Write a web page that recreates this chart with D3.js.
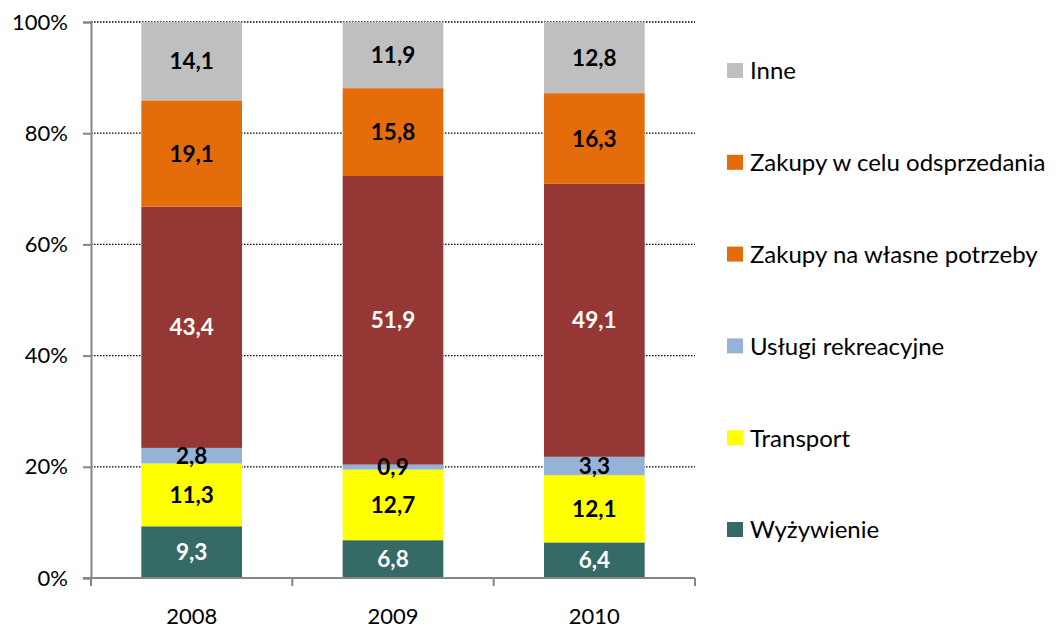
<!DOCTYPE html>
<html>
<head>
<meta charset="utf-8">
<script src="https://cdn.jsdelivr.net/npm/d3@7"></script>
<style>
  body { margin: 0; background: #fff; }
  text { font-family: Lato, "Open Sans", sans-serif; }
</style>
</head>
<body>
<svg id="chart" width="1058" height="631"></svg>
<script>
// DATA
const years = ["2008", "2009", "2010"];
const seriesNames = ["Wyżywienie", "Transport", "Usługi rekreacyjne", "Zakupy na własne potrzeby", "Zakupy w celu odsprzedania", "Inne"];
const wyzywienie = [9.3, 6.8, 6.4];
const transport = [11.3, 12.7, 12.1];
const uslugi = [2.8, 0.9, 3.3];
const zakupyWlasne = [43.4, 51.9, 49.1];
const zakupyOdsprzedaz = [19.1, 15.8, 16.3];
const inne = [14.1, 11.9, 12.8];
const yTicks = [0, 20, 40, 60, 80, 100];

const seriesValues = [wyzywienie, transport, uslugi, zakupyWlasne, zakupyOdsprzedaz, inne];
const barColors = ["#366a66", "#ffff00", "#95b3d7", "#953735", "#e46c0a", "#bfbfbf"];
// legend in the source uses orange for both "Zakupy" entries
const legendColors = ["#366a66", "#ffff00", "#95b3d7", "#e46c0a", "#e46c0a", "#bfbfbf"];
const labelColors = ["#fff", "#000", "#000", "#fff", "#000", "#000"];

const margin = { top: 22, left: 91, right: 363, bottom: 53 };
const W = 1058, H = 631;
const innerW = W - margin.left - margin.right;
const innerH = H - margin.top - margin.bottom;

const svg = d3.select("#chart");
const g = svg.append("g").attr("transform", `translate(${margin.left},${margin.top})`);

const x = d3.scaleBand().domain(years).range([0, innerW]).paddingInner(0.5).paddingOuter(0.25);
const y = d3.scaleLinear().domain([0, 100]).range([innerH, 0]);

// GRID
g.selectAll(".grid")
  .data(yTicks.filter(d => d > 0))
  .enter()
  .append("line")
  .attr("x1", 0)
  .attr("x2", innerW)
  .attr("y1", d => y(d))
  .attr("y2", d => y(d))
  .attr("stroke", "#000")
  .attr("stroke-width", 1.3)
  .attr("stroke-dasharray", "1.5,1.5");

// STACK
const table = years.map((yr, i) => {
  const row = { year: yr };
  seriesNames.forEach((s, j) => { row[s] = seriesValues[j][i]; });
  return row;
});
const stacked = d3.stack().keys(seriesNames)(table);

const layers = g.selectAll(".layer")
  .data(stacked)
  .enter()
  .append("g")
  .attr("fill", (d, i) => barColors[i]);

layers.selectAll("rect")
  .data(d => d)
  .enter()
  .append("rect")
  .attr("x", d => x(d.data.year))
  .attr("width", x.bandwidth())
  .attr("y", d => y(d[1]))
  .attr("height", d => y(d[0]) - y(d[1]));

// LABELS
stacked.forEach((layer, i) => {
  g.selectAll(".lbl" + i)
    .data(layer)
    .enter()
    .append("text")
    .attr("x", d => x(d.data.year) + x.bandwidth() / 2)
    .attr("y", d => (y(d[0]) + y(d[1])) / 2)
    .attr("dy", "0.36em")
    .attr("text-anchor", "middle")
    .attr("font-size", 22.5)
    .attr("font-weight", "bold")
    .attr("fill", labelColors[i])
    .text(d => d3.format(".1f")(d[1] - d[0]).replace(".", ","));
});

// AXES
const yAxis = g.append("g")
  .call(d3.axisLeft(y).tickValues(yTicks).tickFormat(d => d + "%").tickSize(8).tickPadding(15));
yAxis.select(".domain").attr("stroke", "#868686").attr("stroke-width", 2);
yAxis.selectAll(".tick line").attr("stroke", "#868686").attr("stroke-width", 2);
yAxis.selectAll("text").attr("font-size", 22).attr("fill", "#000").attr("font-family", "Lato, sans-serif");

const xAxis = g.append("g").attr("transform", `translate(0,${innerH})`);
xAxis.append("line")
  .attr("x1", -8).attr("x2", innerW)
  .attr("stroke", "#868686").attr("stroke-width", 2);
const bounds = [0].concat(years.map(yr => x(yr) + x.bandwidth() + x.step() * x.paddingInner() / 2));
xAxis.selectAll(".xt")
  .data(bounds)
  .enter()
  .append("line")
  .attr("x1", d => d).attr("x2", d => d)
  .attr("y1", 0).attr("y2", 8)
  .attr("stroke", "#868686").attr("stroke-width", 2);
xAxis.selectAll(".xl")
  .data(years)
  .enter()
  .append("text")
  .attr("x", d => x(d) + x.bandwidth() / 2)
  .attr("y", 46)
  .attr("text-anchor", "middle")
  .attr("font-size", 22)
  .text(d => d);

// LEGEND
const legendOrder = d3.range(seriesNames.length).reverse();
const legend = svg.append("g").attr("transform", "translate(727,71)");
const item = legend.selectAll(".item")
  .data(legendOrder)
  .enter()
  .append("g")
  .attr("transform", (d, i) => `translate(0,${i * 91.8})`);
item.append("rect")
  .attr("x", 0).attr("y", -8)
  .attr("width", 16).attr("height", 15)
  .attr("fill", d => legendColors[d]);
item.append("text")
  .attr("x", 23)
  .attr("dy", "0.35em")
  .attr("font-size", 24)
  .text(d => seriesNames[d]);
</script>
</body>
</html>
